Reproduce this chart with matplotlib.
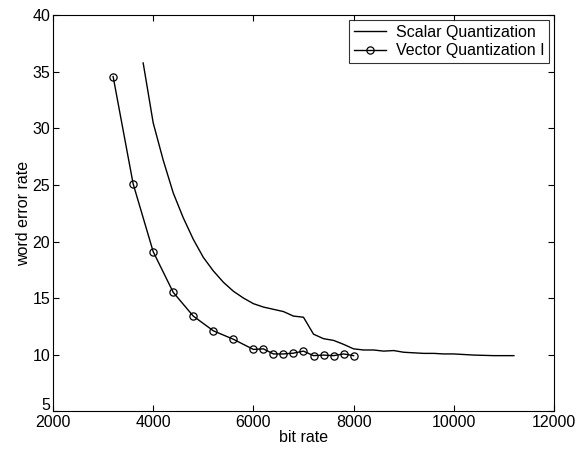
import matplotlib
matplotlib.use("Agg")
import matplotlib.pyplot as plt
import matplotlib.transforms as mtransforms

plt.rcParams['font.family'] = ['Liberation Sans', 'DejaVu Sans']

sq_x = [3800, 4000, 4200, 4400, 4600, 4800, 5000, 5200, 5400, 5600, 5800, 6000,
        6200, 6400, 6600, 6800, 7000, 7200, 7400, 7600, 7800, 8000, 8200, 8400,
        8600, 8800, 9000, 9200, 9400, 9600, 9800, 10000, 10400, 10800, 11200]
sq_y = [35.8, 30.5, 27.2, 24.3, 22.1, 20.2, 18.6, 17.4, 16.4, 15.6, 15.0, 14.5,
        14.2, 14.0, 13.8, 13.4, 13.3, 11.8, 11.4, 11.25, 10.9, 10.5, 10.4, 10.4,
        10.3, 10.35, 10.2, 10.15, 10.1, 10.1, 10.05, 10.05, 9.95, 9.9, 9.9]

vq_x = [3200, 3600, 4000, 4400, 4800, 5200, 5600, 6000, 6200, 6400, 6600, 6800,
        7000, 7200, 7400, 7600, 7800, 8000]
vq_y = [34.6, 25.1, 19.1, 15.5, 13.4, 12.1, 11.35, 10.45, 10.5, 10.05, 10.05, 10.12,
        10.3, 9.9, 9.95, 9.9, 10.05, 9.9]

fig = plt.figure(figsize=(5.81, 4.49), dpi=100)
ax = fig.add_axes([0.0912, 0.0846, 0.8623, 0.8809])

ax.plot(sq_x, sq_y, color='black', lw=1.0, label='Scalar Quantization')
ax.plot(vq_x, vq_y, color='black', lw=1.0, marker='o', markersize=5.2,
        markerfacecolor='none', markeredgewidth=0.9, label='Vector Quantization I')

ax.set_xlim(2000, 12000)
ax.set_ylim(5, 40)
ax.set_xticks([2000, 4000, 6000, 8000, 10000, 12000])
ax.set_yticks([5, 10, 15, 20, 25, 30, 35, 40])
ax.tick_params(direction='in', top=True, right=True, labelsize=11.5, length=4)
ax.tick_params(axis='x', pad=3)
ax.tick_params(axis='y', pad=2)
ax.set_xlabel('bit rate', fontsize=11.5, labelpad=0)
ax.set_ylabel('word error rate', fontsize=11.5, labelpad=1)

# the bottom y label sits slightly above the corner, as in the reference
lbl5 = ax.get_yticklabels()[0]
lbl5.set_transform(lbl5.get_transform() +
                   mtransforms.ScaledTranslation(0, 5 / 72, fig.dpi_scale_trans))

leg = ax.legend(loc='upper right', fontsize=11.5, frameon=True, fancybox=False,
                edgecolor='black', borderaxespad=0.3, handlelength=2.0,
                borderpad=0.3, labelspacing=0.2, handletextpad=0.6)
leg.get_frame().set_linewidth(0.8)

fig.savefig('out.png', dpi=100)
